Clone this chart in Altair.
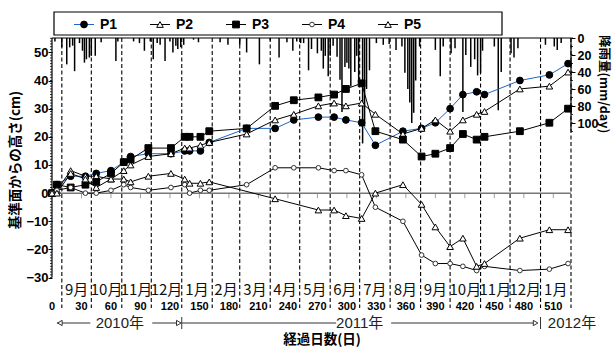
import altair as alt
import pandas as pd

# ---------------- data ----------------
series_names = ["P1", "P2", "P3", "P4", "P5"]
days_main = [0, 5, 19, 34, 45, 60, 73, 80, 98, 121, 135, 140, 151, 160, 198, 227, 246, 271, 287, 299,
             315, 329, 357, 376, 390, 405, 418, 432, 440, 476, 506, 525]
p1 = [0, 3, 6, 6, 7, 8, 11, 13, 14, 14, 15, 15, 15, 18, 23, 23, 26, 27, 27, 26,
      25, 17, 22, 23, 25, 30, 35, 36, 35, 40, 42, 46]
p2 = [0, 1, 8, 6, 6, 5, 8, 10, 13, 14, 16, 16, 17, 18, 21, 26, 28, 31, 32, 31,
      32, 28, 21, 23, 26, 22, 26, 28, 29, 37, 38, 43]
p3 = [0, 3, 2, 3, 4, 7, 11, 12, 16, 16, 20, 20, 20, 22, 23, 31, 33, 34, 35, 37,
      39, 22, 19, 13, 14, 16, 21, 19, 20, 22, 25, 30]
p4 = [0, 1, 2, 0, 0, 1, 3, 2, 1, 2, 3, 0, 1, 1, 3, 9, 9, 9, 8, 8,
      6.5, -5, -10, -22, -25, -25, -26, -27.5, -26, -27.5, -27, -25]
days_p5 = [0, 5, 19, 34, 45, 60, 73, 80, 98, 121, 135, 140, 151, 160, 227, 271, 287, 299, 315, 329,
           357, 376, 390, 405, 418, 432, 440, 476, 506, 525]
p5 = [0, 0, 7, 5, 2, 5, 5, 4, 6, 7, 5, 3.5, 3.5, 4, -2, -6, -6, -8, -9, 0,
      3, -4, -12, -19, -16, -26, -25, -16, -13, -13]

rain_day = [3, 10, 15, 18, 21, 23, 28, 31, 33, 35, 38, 40, 44, 50, 65, 67, 83, 89, 94, 100,
            103, 107, 110, 115, 120, 123, 126, 128, 131, 134, 144, 149, 171, 179, 191, 198, 211, 222, 231, 239,
            245, 249, 253, 256, 261, 264, 270, 274, 276, 278, 281, 283, 286, 290, 293, 295, 298, 300, 302, 304,
            308, 310, 312, 316, 318, 320, 323, 330, 337, 343, 350, 356, 359, 362, 364, 366, 368, 370, 374, 390,
            395, 398, 406, 410, 418, 421, 426, 430, 433, 436, 438, 450, 454, 457, 467, 470, 474, 502, 511, 514, 518]
rain_mm = [4, 11, 31, 11, 9, 39, 6, 15, 29, 25, 23, 21, 21, 5, 27, 4, 4, 6, 15, 4,
           25, 6, 8, 27, 4, 17, 9, 13, 11, 8, 2, 5, 5, 8, 8, 17, 31, 3, 23, 5,
           15, 4, 6, 6, 38, 13, 18, 15, 36, 21, 45, 21, 9, 22, 49, 87, 34, 29, 36, 57,
           40, 21, 52, 124, 104, 60, 38, 6, 8, 7, 14, 10, 41, 60, 76, 100, 88, 50, 10, 14,
           45, 10, 18, 12, 87, 20, 34, 25, 44, 41, 15, 10, 85, 40, 18, 23, 12, 8, 10, 14, 6]

month_edges = [10, 40, 71, 101, 132, 163, 191, 222, 252, 283, 313, 344, 375, 405, 436, 466, 497, 528]
month_labels = ["9月", "10月", "11月", "12月", "1月", "2月", "3月", "4月", "5月", "6月",
                "7月", "8月", "9月", "10月", "11月", "12月", "1月"]
day_ticks = [0, 30, 60, 90, 120, 150, 180, 210, 240, 270, 300, 330, 360, 390, 420, 450, 480, 510]
left_ticks = [-30, -20, -10, 0, 10, 20, 30, 40, 50]
right_ticks = [0, 20, 40, 60, 80, 100]
year_labels = ["2010年", "2011年", "2012年"]
year_bounds = [132, 497]

# ---------------- layout ----------------
W, H = 519, 270
NUM_FONT = "Liberation Sans"
JP_FONT = "Noto Sans CJK JP"
xs = alt.Scale(domain=[0, 528], nice=False, zero=False)
cm = alt.Scale(domain=[-40.8, 55.1], nice=False, zero=False)
mm = alt.Scale(domain=[0, 317.6], reverse=True, nice=False, zero=False)
dummy = pd.DataFrame({"a": [0]})

rows = []
for name, ds, vs in zip(series_names, [days_main] * 4 + [days_p5], [p1, p2, p3, p4, p5]):
    for d, v in zip(ds, vs):
        rows.append({"series": name, "day": d, "v": v})
df = pd.DataFrame(rows)

line_colors = {"P1": "#1f66c8", "P2": "black", "P3": "black", "P4": "black", "P5": "black"}
marker = {
    "P1": dict(shape="circle", size=46, fill="black", stroke="black"),
    "P2": dict(shape="triangle-up", size=44, fill="white", stroke="black"),
    "P3": dict(shape="square", size=46, fill="black", stroke="black"),
    "P4": dict(shape="circle", size=22, fill="white", stroke="#333333"),
    "P5": dict(shape="triangle-up", size=44, fill="white", stroke="black"),
}

layers = []

# precipitation bars
rain_df = pd.DataFrame({"day": rain_day, "mm": rain_mm, "zero": 0})
layers.append(alt.Chart(rain_df).mark_rule(color="black", strokeWidth=1.5).encode(
    x=alt.X("day:Q", scale=xs, axis=None),
    y=alt.Y("mm:Q", scale=mm, axis=None), y2="zero:Q"))

# dashed month boundaries
layers.append(alt.Chart(pd.DataFrame({"edge": month_edges})).mark_rule(
    color="black", strokeWidth=1.1, strokeDash=[4, 2.5]).encode(
    x=alt.X("edge:Q", scale=xs, axis=None), y=alt.value(0), y2=alt.value(H)))

# zero line with ticks
layers.append(alt.Chart(pd.DataFrame({"v": [0]})).mark_rule(color="#777777", strokeWidth=1.5).encode(
    y=alt.Y("v:Q", scale=cm, axis=None), x=alt.value(0), x2=alt.value(W)))
layers.append(alt.Chart(pd.DataFrame({"d": day_ticks, "z": 0})).mark_tick(
    orient="vertical", size=5, thickness=1, color="#777777", yOffset=2.5).encode(
    x=alt.X("d:Q", scale=xs, axis=None), y=alt.Y("z:Q", scale=cm, axis=None)))

# left axis
layers.append(alt.Chart(pd.DataFrame({"v": [0]})).mark_point(opacity=0).encode(
    y=alt.Y("v:Q", scale=cm, axis=alt.Axis(
        orient="left", values=left_ticks, domain=False, grid=False, tickSize=4, tickColor="black",
        tickWidth=1, labelFont=NUM_FONT, labelFontSize=13, labelFontWeight="bold", labelColor="black",
        labelPadding=0, title=None))))
layers.append(alt.Chart(pd.DataFrame({"v": list(range(-30, 56))})).mark_rule(color="black", strokeWidth=0.8).encode(
    y=alt.Y("v:Q", scale=cm, axis=None), x=alt.value(-2), x2=alt.value(0)))
layers.append(alt.Chart(pd.DataFrame({"a": [-30], "b": [55.1]})).mark_rule(color="black", strokeWidth=1.2).encode(
    y=alt.Y("a:Q", scale=cm, axis=None), y2="b:Q", x=alt.value(0)))
# top frame
layers.append(alt.Chart(dummy).mark_rule(color="black", strokeWidth=1.2).encode(
    x=alt.value(0), x2=alt.value(W), y=alt.value(0)))

# right axis
layers.append(alt.Chart(pd.DataFrame({"m": [0]})).mark_point(opacity=0).encode(
    y=alt.Y("m:Q", scale=mm, axis=alt.Axis(
        orient="right", values=right_ticks, domain=False, grid=False, tickSize=4, tickColor="black",
        labelFont=NUM_FONT, labelFontSize=12.5, labelFontWeight="bold", labelColor="black",
        labelPadding=2, title=None))))
layers.append(alt.Chart(pd.DataFrame({"m": list(range(0, 111, 10))})).mark_rule(color="black", strokeWidth=0.8).encode(
    y=alt.Y("m:Q", scale=mm, axis=None), x=alt.value(W), x2=alt.value(W + 2)))
layers.append(alt.Chart(pd.DataFrame({"a": [0], "b": [110]})).mark_rule(color="black", strokeWidth=1.2).encode(
    y=alt.Y("a:Q", scale=mm, axis=None), y2="b:Q", x=alt.value(W)))

# series lines and markers
for name in series_names:
    layers.append(alt.Chart(df).transform_filter(alt.datum.series == name).mark_line(
        color=line_colors[name], strokeWidth=1).encode(
        x=alt.X("day:Q", scale=xs, axis=None), y=alt.Y("v:Q", scale=cm, axis=None)))
for name in series_names:
    m = marker[name]
    layers.append(alt.Chart(df).transform_filter(alt.datum.series == name).mark_point(
        shape=m["shape"], size=m["size"], filled=True, fill=m["fill"], stroke=m["stroke"],
        strokeWidth=1, opacity=1).encode(
        x=alt.X("day:Q", scale=xs, axis=None), y=alt.Y("v:Q", scale=cm, axis=None)))

# month labels
mid = [(a + b) / 2 for a, b in zip(month_edges[:-1], month_edges[1:])]
layers.append(alt.Chart(pd.DataFrame({"d": mid, "t": month_labels})).mark_text(
    font=JP_FONT, fontSize=15, color="#111111", baseline="middle").encode(
    x=alt.X("d:Q", scale=xs, axis=None), y=alt.value(252), text="t:N"))
# day labels
layers.append(alt.Chart(pd.DataFrame({"d": day_ticks})).mark_text(
    font=NUM_FONT, fontSize=11, fontWeight="bold", color="black", baseline="middle").encode(
    x=alt.X("d:Q", scale=xs, axis=None), y=alt.value(268.5), text=alt.Text("d:Q")))

# year row
YR = 285
layers.append(alt.Chart(pd.DataFrame({"d": [69, 313, 529], "t": year_labels})).mark_text(
    font=f"{NUM_FONT}, {JP_FONT}", fontSize=15, color="#222222", baseline="middle").encode(
    x=alt.X("d:Q", scale=xs, axis=None), y=alt.value(YR), text="t:N"))
seg = pd.DataFrame({"a": [5, 102, 132, 345], "b": [39, 130, 289, 493]})
layers.append(alt.Chart(seg).mark_rule(color="#333333", strokeWidth=1).encode(
    x=alt.X("a:Q", scale=xs, axis=None), x2="b:Q", y=alt.value(YR)))
layers.append(alt.Chart(pd.DataFrame({"d": year_bounds})).mark_rule(color="#333333", strokeWidth=1).encode(
    x=alt.X("d:Q", scale=xs, axis=None), y=alt.value(YR - 6), y2=alt.value(YR + 6)))
heads = pd.DataFrame({"d": [8, 129, 492], "s": ["triangle-left", "triangle-right", "triangle-right"]})
for s in ["triangle-left", "triangle-right"]:
    layers.append(alt.Chart(heads).transform_filter(alt.datum.s == s).mark_point(
        shape=s, size=28, filled=True, fill="white", stroke="#333333", strokeWidth=1, opacity=1).encode(
        x=alt.X("d:Q", scale=xs, axis=None), y=alt.value(YR)))

# axis titles
layers.append(alt.Chart(dummy).mark_text(font=JP_FONT, fontSize=13.5, fontWeight="bold", color="black",
                                         baseline="middle").encode(
    x=alt.value(270), y=alt.value(302), text=alt.value("経過日数(日)")))
layers.append(alt.Chart(dummy).mark_text(font=JP_FONT, fontSize=13.5, fontWeight="bold", color="black",
                                         angle=270, baseline="middle").encode(
    x=alt.value(-36), y=alt.value(122), text=alt.value("基準面からの高さ(cm)")))
layers.append(alt.Chart(dummy).mark_text(font=JP_FONT, fontSize=12.5, fontWeight="bold", color="black",
                                         angle=90, baseline="middle").encode(
    x=alt.value(552), y=alt.value(46), text=alt.value("降雨量(mm/day)")))

# legend
LY = -13.5
layers.append(alt.Chart(dummy).mark_rect(fill="white", stroke="black", strokeWidth=1.2).encode(
    x=alt.value(2), x2=alt.value(450), y=alt.value(-26), y2=alt.value(-3)))
for i, name in enumerate(series_names):
    cx = 32 + 76 * i
    m = marker[name]
    layers.append(alt.Chart(dummy).mark_rule(color=line_colors[name], strokeWidth=1).encode(
        x=alt.value(cx - 10), x2=alt.value(cx + 10), y=alt.value(LY)))
    layers.append(alt.Chart(dummy).mark_point(
        shape=m["shape"], size=m["size"], filled=True, fill=m["fill"], stroke=m["stroke"],
        strokeWidth=1, opacity=1).encode(x=alt.value(cx), y=alt.value(LY)))
    layers.append(alt.Chart(dummy).mark_text(font=NUM_FONT, fontSize=14, fontWeight="bold", color="black",
                                             align="left", baseline="middle").encode(
        x=alt.value(cx + 16), y=alt.value(LY), text=alt.value(name)))

chart = alt.layer(*layers).resolve_scale(y="independent").properties(
    width=W, height=H,
    autosize=alt.AutoSizeParams(type="none"),
    padding={"left": 52, "top": 38, "right": 43, "bottom": 41},
    background="white",
).configure_view(stroke=None)

chart.save("out.html", embed_options={"renderer": "svg", "actions": False})
